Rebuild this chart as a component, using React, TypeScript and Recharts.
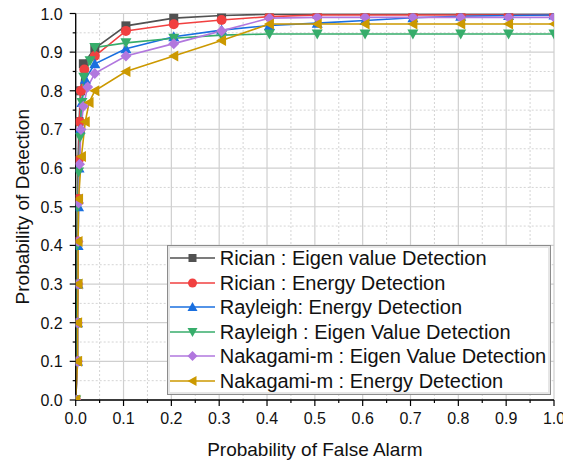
import React from "react"
import {
  LineChart, Line, XAxis, YAxis, CartesianGrid, ReferenceLine, Legend, Label,
} from "recharts"

// tail of every curve (x values above 0.05)
const tailPfa = [0.105, 0.205, 0.305, 0.405, 0.505, 0.605, 0.705, 0.805, 0.905, 1.0]

const ricianEigenPfa = [0, 0.002, 0.002, 0.003, 0.003, 0.004, 0.005, 0.007, 0.01, 0.016, 0.04, ...tailPfa]
const ricianEigenPd = [0, 0.1, 0.2, 0.3, 0.41, 0.52, 0.62, 0.72, 0.8, 0.87, 0.91, 0.968, 0.988, 0.995, 0.998, 0.998, 0.998, 0.998, 0.998, 0.998, 0.998]

const ricianEnergyPfa = [0, 0.003, 0.003, 0.004, 0.004, 0.005, 0.006, 0.008, 0.011, 0.018, 0.04, ...tailPfa]
const ricianEnergyPd = [0, 0.1, 0.2, 0.3, 0.41, 0.52, 0.62, 0.72, 0.8, 0.855, 0.89, 0.955, 0.972, 0.983, 0.992, 0.996, 0.996, 0.996, 0.996, 0.996, 0.996]

const rayleighEnergyPfa = [0, 0.004, 0.004, 0.005, 0.005, 0.006, 0.007, 0.009, 0.013, 0.02, 0.04, ...tailPfa]
const rayleighEnergyPd = [0, 0.1, 0.2, 0.3, 0.4, 0.5, 0.6, 0.7, 0.77, 0.83, 0.87, 0.909, 0.94, 0.957, 0.969, 0.975, 0.982, 0.989, 0.993, 0.995, 0.996]

const rayleighEigenPfa = [0, 0.002, 0.002, 0.003, 0.003, 0.004, 0.006, 0.009, 0.013, 0.017, 0.03, 0.04, ...tailPfa]
const rayleighEigenPd = [0, 0.1, 0.2, 0.3, 0.4, 0.5, 0.59, 0.68, 0.77, 0.835, 0.878, 0.912, 0.924, 0.936, 0.944, 0.947, 0.947, 0.947, 0.947, 0.947, 0.947, 0.947]

const nakagamiEigenPfa = [0, 0.004, 0.004, 0.005, 0.005, 0.006, 0.008, 0.011, 0.016, 0.025, 0.04, ...tailPfa]
const nakagamiEigenPd = [0, 0.1, 0.2, 0.3, 0.41, 0.51, 0.61, 0.7, 0.76, 0.81, 0.845, 0.89, 0.922, 0.955, 0.988, 0.99, 0.99, 0.99, 0.99, 0.99, 0.99]

const nakagamiEnergyPfa = [0, 0.004, 0.004, 0.005, 0.005, 0.006, 0.012, 0.02, 0.028, 0.04, ...tailPfa]
const nakagamiEnergyPd = [0, 0.1, 0.2, 0.3, 0.41, 0.52, 0.63, 0.72, 0.77, 0.8, 0.85, 0.89, 0.93, 0.973, 0.973, 0.973, 0.973, 0.973, 0.973, 0.973]

const majorTicks = [0, 0.1, 0.2, 0.3, 0.4, 0.5, 0.6, 0.7, 0.8, 0.9, 1.0]
const allTicks = [0, 0.05, 0.1, 0.15, 0.2, 0.25, 0.3, 0.35, 0.4, 0.45, 0.5, 0.55, 0.6, 0.65, 0.7, 0.75, 0.8, 0.85, 0.9, 0.95, 1.0]
const minorTicks = [0.05, 0.15, 0.25, 0.35, 0.45, 0.55, 0.65, 0.75, 0.85, 0.95]

const zip = (xs: number[], ys: number[]) => xs.map((x, i) => ({ x, y: ys[i] }))

const series = [
  { name: "Rician : Eigen value Detection", color: "#515151", shape: "square", data: zip(ricianEigenPfa, ricianEigenPd) },
  { name: "Rician : Energy Detection", color: "#F14040", shape: "circle", data: zip(ricianEnergyPfa, ricianEnergyPd) },
  { name: "Rayleigh: Energy Detection", color: "#1A6FDF", shape: "up", data: zip(rayleighEnergyPfa, rayleighEnergyPd) },
  { name: "Rayleigh : Eigen Value Detection", color: "#37AD6B", shape: "down", data: zip(rayleighEigenPfa, rayleighEigenPd) },
  { name: "Nakagami-m : Eigen Value Detection", color: "#B177DE", shape: "diamond", data: zip(nakagamiEigenPfa, nakagamiEigenPd) },
  { name: "Nakagami-m : Energy Detection", color: "#CC9900", shape: "left", data: zip(nakagamiEnergyPfa, nakagamiEnergyPd) },
]

const FONT = "'Liberation Sans', Arial, sans-serif"

function marker(shape: string, cx: number, cy: number, color: string, s: number, key?: any) {
  const h = s / 2
  if (shape === "square") return <rect key={key} x={cx - h} y={cy - h} width={s} height={s} fill={color} />
  if (shape === "circle") return <circle key={key} cx={cx} cy={cy} r={h + 0.5} fill={color} />
  if (shape === "up") return <polygon key={key} points={`${cx},${cy - h - 1} ${cx + h + 1},${cy + h} ${cx - h - 1},${cy + h}`} fill={color} />
  if (shape === "down") return <polygon key={key} points={`${cx},${cy + h + 1} ${cx + h + 1},${cy - h} ${cx - h - 1},${cy - h}`} fill={color} />
  if (shape === "diamond") return <polygon key={key} points={`${cx},${cy - h - 1} ${cx + h + 1},${cy} ${cx},${cy + h + 1} ${cx - h - 1},${cy}`} fill={color} />
  return <polygon key={key} points={`${cx - h - 1},${cy} ${cx + h},${cy - h - 1} ${cx + h},${cy + h + 1}`} fill={color} />
}

const isMajor = (v: number) => Math.abs(v * 10 - Math.round(v * 10)) < 1e-6

const BottomTick = (p: any) => {
  const major = isMajor(p.payload.value)
  return (
    <g>
      <line x1={p.x} x2={p.x} y1={p.y} y2={p.y + (major ? 6 : 3)} stroke="#000" strokeWidth={1.2} />
      {major && (
        <text x={p.x} y={p.y + 24} textAnchor="middle" fontSize={16} fontFamily={FONT} fill="#111">
          {p.payload.value.toFixed(1)}
        </text>
      )}
    </g>
  )
}

const LeftTick = (p: any) => {
  const major = isMajor(p.payload.value)
  return (
    <g>
      <line x1={p.x} x2={p.x - (major ? 6 : 3)} y1={p.y} y2={p.y} stroke="#000" strokeWidth={1.2} />
      {major && (
        <text x={p.x - 13} y={p.y + 6} textAnchor="end" fontSize={16} fontFamily={FONT} fill="#111">
          {p.payload.value.toFixed(1)}
        </text>
      )}
    </g>
  )
}

const TopTick = (p: any) => {
  const major = isMajor(p.payload.value)
  return <line x1={p.x} x2={p.x} y1={p.y} y2={p.y + (major ? 6 : 3)} stroke="#000" strokeWidth={1.2} />
}

const RightTick = (p: any) => {
  const major = isMajor(p.payload.value)
  return <line x1={p.x} x2={p.x - (major ? 6 : 3)} y1={p.y} y2={p.y} stroke="#000" strokeWidth={1.2} />
}

function LegendBox() {
  return (
    <div style={{ width: 382, height: 148, border: "1px solid #8c8c8c", boxShadow: "inset 0 0 0 2px #e6e6e6", background: "#fff", fontFamily: FONT, fontSize: 20, color: "#111", boxSizing: "content-box" }}>
      {series.map((s) => (
        <div key={s.name} style={{ display: "flex", alignItems: "center", height: 24.5, whiteSpace: "nowrap" }}>
          <svg width={52} height={24} style={{ flex: "none" }}>
            <line x1={2} x2={47} y1={12} y2={12} stroke={s.color} strokeWidth={1.6} />
            {marker(s.shape, 24.5, 12, s.color, 8)}
          </svg>
          <span style={{ lineHeight: "24px" }}>{s.name}</span>
        </div>
      ))}
    </div>
  )
}

export default function App() {
  return (
    <LineChart width={563} height={455} margin={{ top: 5.5, right: 17, left: 0, bottom: 0 }}>
      <CartesianGrid stroke="#cfcfcf" strokeWidth={1.2} horizontalValues={majorTicks} verticalValues={majorTicks} />
      {minorTicks.map((v) => (
        <ReferenceLine key={"mx" + v} x={v} stroke="#d4d4d4" strokeDasharray="2 2" />
      ))}
      {minorTicks.map((v) => (
        <ReferenceLine key={"my" + v} y={v} stroke="#d4d4d4" strokeDasharray="2 2" />
      ))}
      <XAxis
        type="number" dataKey="x" domain={[0, 1]} ticks={allTicks} interval={0}
        tick={<BottomTick />} tickLine={false} tickSize={0} tickMargin={0} height={63}
        axisLine={{ stroke: "#000", strokeWidth: 1.3 }} allowDataOverflow
      >
        <Label value="Probability of False Alarm" position="insideBottom" offset={7} style={{ fontSize: 19, fontFamily: FONT, fill: "#111" }} />
      </XAxis>
      <XAxis
        xAxisId="top" orientation="top" type="number" domain={[0, 1]} ticks={allTicks} interval={0}
        tick={<TopTick />} tickLine={false} tickSize={0} tickMargin={0} height={0} mirror
        axisLine={{ stroke: "#000", strokeWidth: 1.3 }} allowDataOverflow
      />
      <YAxis
        type="number" domain={[0, 1]} ticks={allTicks} interval={0} width={67.7}
        tick={<LeftTick />} tickLine={false} tickSize={0} tickMargin={0}
        axisLine={{ stroke: "#000", strokeWidth: 1.3 }} allowDataOverflow
      >
        <Label value="Probability of Detection" angle={-90} position="insideLeft" offset={14} style={{ fontSize: 19, fontFamily: FONT, fill: "#111", textAnchor: "middle" }} />
      </YAxis>
      <YAxis
        yAxisId="right" orientation="right" type="number" domain={[0, 1]} ticks={allTicks} interval={0} width={0} mirror
        tick={<RightTick />} tickLine={false} tickSize={0} tickMargin={0}
        axisLine={{ stroke: "#000", strokeWidth: 1.3 }} allowDataOverflow
      />
      {series.map((s) => (
        <Line
          key={s.name}
          data={s.data}
          dataKey="y"
          type="linear"
          stroke={s.color}
          strokeWidth={1.6}
          isAnimationActive={false}
          dot={(p: any) => marker(s.shape, p.cx, p.cy, s.color, 9, p.key ?? `${s.name}-${p.index}`)}
          activeDot={false}
        />
      ))}
      <Legend
        layout="vertical" align="center" verticalAlign="middle"
        wrapperStyle={{ left: 158.7, top: 237, width: 384, height: 150 }}
        content={() => <LegendBox />}
      />
    </LineChart>
  )
}
